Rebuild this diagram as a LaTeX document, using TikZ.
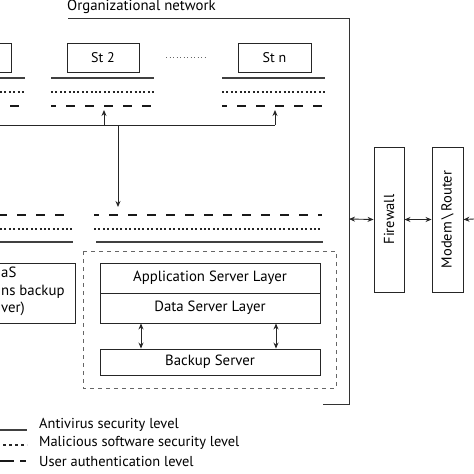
\documentclass[tikz,border=0pt]{standalone}
\usepackage{fontspec}
\setmainfont{PT Sans}
\usetikzlibrary{arrows.meta}
\tikzset{
  box/.style={draw=black!85, line width=0.9pt, inner sep=0pt, font=\fontsize{14.8}{16}\selectfont},
  antivirus/.style={draw=black!75, line width=1.1pt},
  malware/.style={draw=black!85, line width=2pt, dash pattern=on 2pt off 2.4pt},
  userauth/.style={draw=black!90, line width=2.6pt, dash pattern=on 9pt off 10pt},
  link/.style={draw=black!85, line width=0.9pt},
  tip/.style={-{Stealth[length=6pt,width=5pt]}},
  legendtext/.style={anchor=west, inner sep=0pt, font=\fontsize{14.4}{16}\selectfont},
}
\begin{document}
\begin{tikzpicture}[x=1pt, y=-1pt]
  \useasboundingbox (0,0) rectangle (474,474);
  \clip (0,0) rectangle (474,474);

  % Organizational network frame
  \draw[black!80, line width=0.9pt] (68,18) -- (349,18) -- (349,404) -- (323,404);
  \node[anchor=south west, inner sep=0pt, font=\fontsize{14.8}{16}\selectfont] (title) at (67,14) {Organizational network};

  % Stations
  \draw[box] (-40,43) rectangle (11,72);
  \node[box, font=\fontsize{14}{16}\selectfont, minimum width=72pt, minimum height=29pt] (st2) at (103,57.5) {St 2};
  \node[box, font=\fontsize{14}{16}\selectfont, minimum width=73pt, minimum height=29pt] (stn) at (274.5,57.5) {St n};
  \draw[black!60, line width=0.8pt, dash pattern=on 1pt off 2.5pt] (166,57) -- (207,57);

  % Station security levels
  \draw[antivirus] (0,78) -- (25,78);
  \draw[antivirus] (51,78) -- (154,78);
  \draw[antivirus] (222,78) -- (325,78);
  \draw[malware] (0,92) -- (26,92);
  \draw[malware] (51,92) -- (155,92);
  \draw[malware] (222,92) -- (326,92);
  \draw[userauth, dash phase=9pt] (0,106) -- (26,106);
  \draw[userauth, dash phase=4pt] (51,106) -- (155,106);
  \draw[userauth, dash phase=4pt] (222,106) -- (326,106);

  % Bus to stations and servers
  \coordinate (busl) at (0,125);
  \coordinate (bus2) at (104,125);
  \coordinate (busn) at (275,125);
  \coordinate (busv) at (118,125);
  \draw[link] (busl) -- (busn);
  \draw[link, tip] (bus2) -- (104,110);
  \draw[link, tip] (busn) -- (275,110);
  \draw[link, tip] (busv) -- (118,207);

  % Server security levels
  \draw[userauth, dash phase=2pt] (0,215) -- (72,215);
  \draw[userauth, dash phase=4pt] (94,215) -- (322,215);
  \draw[malware] (0,229) -- (72,229);
  \draw[malware] (94,229) -- (322,229);
  \draw[antivirus] (0,242) -- (73,242);
  \draw[antivirus] (96,242) -- (323,242);

  % NAS
  \draw[box] (-20,263) rectangle (75,323);
  \node[anchor=north west, align=left, inner sep=0pt, font=\fontsize{14.8}{17.5}\selectfont] (nas) at (1,267) {aS\\ns backup\\ver)};

  % Servers
  \draw[black!60, line width=0.9pt, dash pattern=on 4pt off 4pt] (83,251) rectangle (336,388);
  \node[box, minimum width=220pt, minimum height=30pt] (app) at (210,278) {Application Server Layer};
  \node[box, minimum width=220pt, minimum height=30pt] (data) at (210,308) {Data Server Layer};
  \node[box, minimum width=220pt, minimum height=26pt] (backup) at (210,362) {Backup Server};
  \draw[link, {Stealth[length=6pt,width=5pt]}-{Stealth[length=6pt,width=5pt]}] (data.south -| 141,0) -- (backup.north -| 141,0);
  \draw[link, {Stealth[length=6pt,width=5pt]}-{Stealth[length=6pt,width=5pt]}] (data.south -| 276,0) -- (backup.north -| 276,0);

  % Firewall and Modem\Router
  \node[box, font=\fontsize{14.5}{16}\selectfont, rotate=90, minimum width=145pt, minimum height=30pt] (firewall) at (389,219.5) {Firewall};
  \node[box, font=\fontsize{14.5}{16}\selectfont, rotate=90, minimum width=145pt, minimum height=31pt] (modem) at (447.5,219.5) {Modem\,\textbackslash\,Router};
  \coordinate (framer) at (349,219);
  \coordinate (outside) at (474,219);
  \draw[link, {Stealth[length=6pt,width=5pt]}-{Stealth[length=6pt,width=5pt]}] (framer) -- (firewall.north);
  \draw[link, {Stealth[length=6pt,width=5pt]}-{Stealth[length=6pt,width=5pt]}] (firewall.south) -- (modem.north);
  \draw[link, tip] (outside) -- (modem.south);

  % Legend
  \draw[antivirus] (0,430) -- (27,430);
  \node[legendtext] (leg1) at (39,425) {Antivirus security level};
  \draw[malware, dash pattern=on 2.5pt off 3.5pt] (3,445) -- (27,445);
  \node[legendtext] (leg2) at (39,443) {Malicious software security level};
  \draw[userauth, dash pattern=on 14pt off 6pt on 6pt off 10pt] (0,461) -- (26,461);
  \node[legendtext] (leg3) at (39,461) {User authentication level};
\end{tikzpicture}
\end{document}
